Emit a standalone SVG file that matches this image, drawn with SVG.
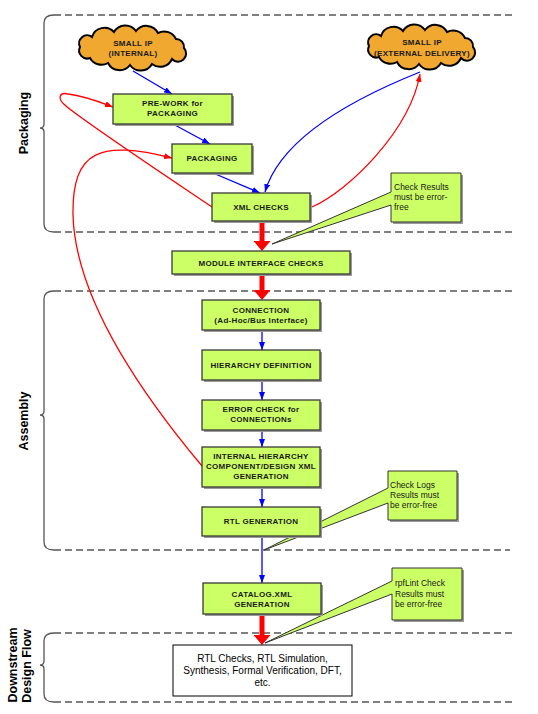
<svg xmlns="http://www.w3.org/2000/svg" width="538" height="714" viewBox="0 0 538 714">
<style>
.box{fill:#ccff66;stroke:#3a3a3a;stroke-width:1.3}
.shd{fill:#9a9a9a}
.lbl{font-family:"Liberation Sans",Arial,sans-serif;font-size:8px;font-weight:bold;letter-spacing:0.3px;fill:#1a1a1a;text-anchor:middle}
.note{font-family:"Liberation Sans",Arial,sans-serif;font-size:8.5px;fill:#1a1a1a}
.side{font-family:"Liberation Sans",Arial,sans-serif;font-size:12.5px;font-weight:bold;fill:#000;text-anchor:middle}
.ds{font-family:"Liberation Sans",Arial,sans-serif;font-size:10px;fill:#000;text-anchor:middle}
.dash{stroke:#555;stroke-width:1.5;stroke-dasharray:7 4;fill:none}
.brace{stroke:#555;stroke-width:1.3;fill:none}
.blue{stroke:#0000ff;stroke-width:1.3;fill:none;marker-end:url(#ab)}
.red{stroke:#ff0000;stroke-width:1.3;fill:none;marker-end:url(#ar)}
.thick{stroke:#ff0000;stroke-width:5;fill:none;marker-end:url(#at)}
.cloud{fill:#f0a830;stroke:#000;stroke-width:2}
.call{fill:#ccff66;stroke:#333;stroke-width:1}
</style>
<defs>
<marker id="ab" viewBox="0 0 8 6" refX="8" refY="3" markerWidth="8" markerHeight="6" markerUnits="userSpaceOnUse" orient="auto"><path d="M0,0 L8,3 L0,6 Z" fill="#0000ff"/></marker>
<marker id="ar" viewBox="0 0 8 6" refX="8" refY="3" markerWidth="8" markerHeight="6" markerUnits="userSpaceOnUse" orient="auto"><path d="M0,0 L8,3 L0,6 Z" fill="#ff0000"/></marker>
<marker id="at" viewBox="0 0 10 17" refX="0" refY="8.5" markerWidth="10" markerHeight="17" markerUnits="userSpaceOnUse" orient="auto"><path d="M0,0 L10,8.5 L0,17 Z" fill="#ff0000"/></marker>
<path id="cloudshape" d="M52,0 A8,8 0 0 1 40,11 A13,13 0 0 1 20,16 A13,13 0 0 1 -2,17 A13,13 0 0 1 -24,15 A13,13 0 0 1 -42,10 A8,8 0 0 1 -52,-1 A8,8 0 0 1 -40,-11 A13,13 0 0 1 -18,-16 A13,13 0 0 1 4,-17 A13,13 0 0 1 26,-15 A13,13 0 0 1 44,-9 A8,8 0 0 1 52,0 Z"/>
</defs>

<g id="regions">
<line class="dash" x1="54" y1="15" x2="512" y2="15"/>
<line class="dash" x1="54" y1="232" x2="512" y2="232"/>
<path class="brace" d="M54,15 Q44,15 44,23 L44,124 Q44,128 40,128 Q44,128 44,132 L44,224 Q44,232 54,232"/>
<text class="side" transform="translate(28,123) rotate(-90)">Packaging</text>
<line class="dash" x1="54" y1="291" x2="512" y2="291"/>
<line class="dash" x1="54" y1="550" x2="510" y2="550"/>
<path class="brace" d="M54,291 Q44,291 44,299 L44,411 Q44,415 40,415 Q44,415 44,419 L44,542 Q44,550 54,550"/>
<text class="side" transform="translate(28,421) rotate(-90)">Assembly</text>
<line class="dash" x1="54" y1="633" x2="512" y2="633"/>
<line class="dash" x1="54" y1="702" x2="512" y2="702"/>
<path class="brace" d="M54,633 Q44,633 44,641 L44,661 Q44,665 40,665 Q44,665 44,669 L44,694 Q44,702 54,702"/>
<text class="side" transform="translate(17,665) rotate(-90)">Downstream</text>
<text class="side" transform="translate(31,666) rotate(-90)">Design Flow</text>
</g>

<g id="note-check-results">
<rect class="shd" x="393" y="175" width="70" height="49"/>
<path class="call" d="M391,173 H461 V222 H391 V205 L272,244 L391,192 Z"/>
<text class="note" x="394" y="190">Check Results</text>
<text class="note" x="394" y="200">must be error-</text>
<text class="note" x="394" y="210">free</text>
</g>
<g id="note-check-logs">
<rect class="shd" x="390" y="473" width="69" height="49"/>
<path class="call" d="M388,471 H457 V520 H388 V503 L264,550 L388,488 Z"/>
<text class="note" x="390" y="488">Check Logs</text>
<text class="note" x="390" y="498">Results must</text>
<text class="note" x="390" y="508">be error-free</text>
</g>
<g id="note-rpflint">
<rect class="shd" x="394" y="570" width="70" height="52"/>
<path class="call" d="M392,568 H462 V620 H392 V594 L265,643 L392,581 Z"/>
<text class="note" x="395" y="586">rpfLint Check</text>
<text class="note" x="395" y="596.5">Results must</text>
<text class="note" x="395" y="607">be error-free</text>
</g>

<g id="connectors">
<line class="blue" x1="133" y1="71" x2="172" y2="94"/>
<line class="blue" x1="173" y1="124" x2="210" y2="144"/>
<line class="blue" x1="213" y1="173" x2="260" y2="193"/>
<path class="blue" d="M420,72 C350,100 280,140 265,192"/>
<path class="red" d="M212,207 C160,172 85,122 66,106 C56,98 60,92 68,94 C85,96 100,102 113,107"/>
<path class="red" d="M202,466 C130,380 75,290 73,215 C72,150 100,140 172,158"/>
<path class="red" d="M312,207 C350,190 410,130 420,74"/>
<line class="thick" x1="262" y1="222" x2="262" y2="241"/>
<line class="thick" x1="262" y1="274" x2="262" y2="290"/>
<line class="blue" x1="262" y1="330" x2="262" y2="350"/>
<line class="blue" x1="262" y1="380" x2="262" y2="400"/>
<line class="blue" x1="262" y1="430" x2="262" y2="447"/>
<line class="blue" x1="262" y1="487" x2="262" y2="507"/>
<line class="blue" x1="262" y1="536" x2="262" y2="583"/>
<line class="thick" x1="262" y1="614" x2="262" y2="635"/>
</g>

<g id="small-ip-internal">
<use href="#cloudshape" class="cloud" transform="translate(132,48)"/>
<text class="lbl" x="133" y="45.5">SMALL IP</text>
<text class="lbl" x="133" y="56">(INTERNAL)</text>
</g>
<g id="small-ip-external">
<use href="#cloudshape" class="cloud" transform="translate(421,47)"/>
<text class="lbl" x="422" y="45">SMALL IP</text>
<text class="lbl" x="422" y="55.5">(EXTERNAL DELIVERY)</text>
</g>
<g id="pre-work">
<rect class="shd" x="115" y="96" width="119" height="30"/>
<rect class="box" x="113" y="94" width="119" height="30"/>
<text class="lbl" x="172.5" y="106">PRE-WORK for</text>
<text class="lbl" x="172.5" y="116">PACKAGING</text>
</g>
<g id="packaging">
<rect class="shd" x="174" y="146" width="80" height="29"/>
<rect class="box" x="172" y="144" width="80" height="29"/>
<text class="lbl" x="212" y="161">PACKAGING</text>
</g>
<g id="xml-checks">
<rect class="shd" x="214" y="195" width="98" height="28"/>
<rect class="box" x="212" y="193" width="98" height="28"/>
<text class="lbl" x="261" y="210">XML CHECKS</text>
</g>
<g id="module-interface-checks">
<rect class="shd" x="174" y="253" width="178" height="23"/>
<rect class="box" x="172" y="251" width="178" height="23"/>
<text class="lbl" x="261" y="265.5">MODULE INTERFACE CHECKS</text>
</g>
<g id="connection">
<rect class="shd" x="204" y="302" width="118" height="30"/>
<rect class="box" x="202" y="300" width="118" height="30"/>
<text class="lbl" x="261" y="312.5">CONNECTION</text>
<text class="lbl" x="261" y="323">(Ad-Hoc/Bus Interface)</text>
</g>
<g id="hierarchy-definition">
<rect class="shd" x="204" y="352" width="118" height="30"/>
<rect class="box" x="202" y="350" width="118" height="30"/>
<text class="lbl" x="261" y="368">HIERARCHY DEFINITION</text>
</g>
<g id="error-check">
<rect class="shd" x="204" y="402" width="118" height="30"/>
<rect class="box" x="202" y="400" width="118" height="30"/>
<text class="lbl" x="261" y="412">ERROR CHECK for</text>
<text class="lbl" x="261" y="422">CONNECTIONs</text>
</g>
<g id="internal-hierarchy">
<rect class="shd" x="204" y="449" width="118" height="40"/>
<rect class="box" x="202" y="447" width="118" height="40"/>
<text class="lbl" x="261" y="459">INTERNAL HIERARCHY</text>
<text class="lbl" x="261" y="469">COMPONENT/DESIGN XML</text>
<text class="lbl" x="261" y="479">GENERATION</text>
</g>
<g id="rtl-generation">
<rect class="shd" x="204" y="509" width="118" height="29"/>
<rect class="box" x="202" y="507" width="118" height="29"/>
<text class="lbl" x="261" y="524">RTL GENERATION</text>
</g>
<g id="catalog-xml">
<rect class="shd" x="205" y="585" width="118" height="31"/>
<rect class="box" x="203" y="583" width="118" height="31"/>
<text class="lbl" x="262" y="596.5">CATALOG.XML</text>
<text class="lbl" x="262" y="607">GENERATION</text>
</g>
<g id="downstream-box">
<rect x="173" y="645" width="179" height="51" fill="#fff" stroke="#000" stroke-width="1"/>
<text class="ds" x="262.5" y="661.5">RTL Checks, RTL Simulation,</text>
<text class="ds" x="262.5" y="673.5">Synthesis, Formal Verification, DFT,</text>
<text class="ds" x="262.5" y="685.5">etc.</text>
</g>
</svg>
